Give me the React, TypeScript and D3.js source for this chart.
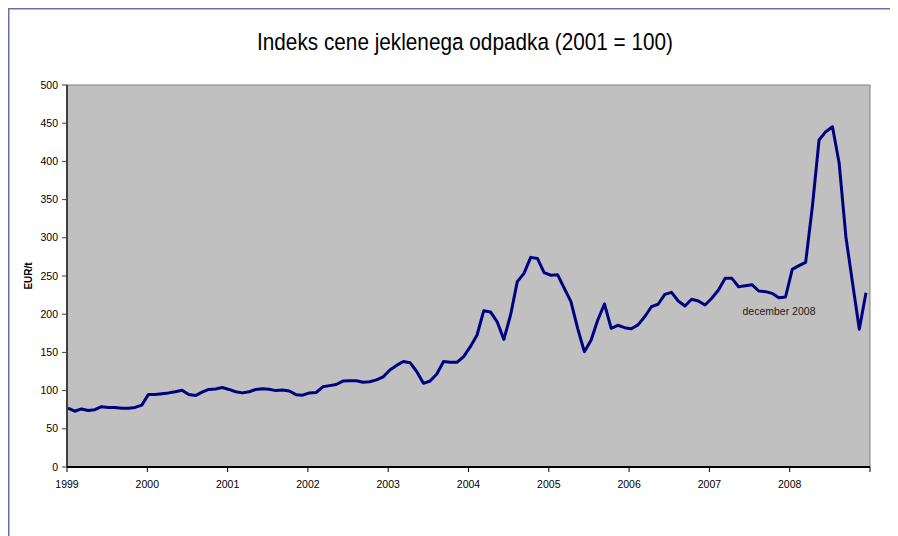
import * as d3 from "d3";

// mesečni indeks, januar 1999 - december 2008
const years = [1999, 2000, 2001, 2002, 2003, 2004, 2005, 2006, 2007, 2008];
const monthNames = ["jan", "feb", "mar", "apr", "maj", "jun", "jul", "avg", "sep", "okt", "nov", "dec"];

const values1999 = [77, 73, 76, 74, 75, 79, 78, 78, 77, 77, 78, 81];
const values2000 = [95, 95, 96, 97, 98.5, 100.5, 95, 93.5, 98, 101.5, 102, 104];
const values2001 = [101.5, 98.5, 97, 98.5, 101.5, 102.5, 101.7, 100, 100.8, 99.5, 94.7, 94];
const values2002 = [97, 97.5, 105, 106.5, 108, 112.5, 113, 113, 111, 111.5, 114, 118];
const values2003 = [127, 133, 138, 136.5, 125, 109.5, 112.6, 121.7, 138, 137, 137, 144.4];
const values2004 = [157.5, 172.8, 204.6, 203, 190, 167, 199, 242.6, 253.5, 274.4, 273, 254.4];
const values2005 = [251, 251.7, 234, 216.4, 181.5, 151, 166, 192.4, 213.4, 181.5, 185.5, 182.4];
const values2006 = [181, 186, 196.7, 209.8, 213, 226, 228.6, 217.3, 210.7, 219.5, 217.3, 212];
const values2007 = [220.8, 231.7, 246.9, 246.9, 236, 237.3, 238.6, 230.4, 229.5, 227.3, 221.6, 222.5];
const values2008 = [258.7, 263.5, 267.9, 340.7, 428, 438.9, 445.4, 397.5, 301.4, 240.4, 180.2, 228.2];

const yTicks = [0, 50, 100, 150, 200, 250, 300, 350, 400, 450, 500];

const title = "Indeks cene jeklenega odpadka (2001 = 100)";
const yLabel = "EUR/t";
const note = "december 2008";

const allValues = [
  values1999, values2000, values2001, values2002, values2003,
  values2004, values2005, values2006, values2007, values2008
];

const data = allValues.flatMap((vals, yi) =>
  vals.map((v, m) => ({ key: `${monthNames[m]} ${years[yi]}`, value: v }))
);

const font = "'Liberation Sans', Arial, sans-serif";

export default function App() {
  const left = 67;
  const right = 870;
  const top = 85;
  const bottom = 467;

  const x = d3.scalePoint<string>().domain(data.map(d => d.key)).range([68, 866]);
  const xYear = d3.scaleLinear().domain([1999, 2009]).range([left, right]);
  const y = d3.scaleLinear().domain([0, 500]).range([bottom, top]);

  const line = d3
    .line<{ key: string; value: number }>()
    .x(d => x(d.key) as number)
    .y(d => y(d.value));

  const yearTicks = d3.range(1999, 2010);

  return (
    <svg width={890} height={528} style={{ display: "block" }}>
      <g transform="translate(-8,-8)">
        <rect x={8.75} y={8.75} width={1200} height={1200} fill="#fff" stroke="#6e6eaa" strokeWidth={1.5} />

        <text
          x={465}
          y={49.5}
          textAnchor="middle"
          fontFamily="'Liberation Sans Narrow', 'Liberation Sans', Arial, sans-serif"
          fontSize={24.5}
          textLength={416}
          lengthAdjust="spacingAndGlyphs"
          fill="#000"
        >
          {title}
        </text>

        <rect x={left} y={top} width={right - left} height={bottom - top} fill="#c0c0c0" stroke="#808080" strokeWidth={1} />

        {/* y os */}
        <line x1={left} x2={left} y1={top} y2={bottom} stroke="#404040" strokeWidth={2} />
        {yTicks.map(t => (
          <g key={t}>
            <line x1={left - 5} x2={left} y1={y(t)} y2={y(t)} stroke="#404040" strokeWidth={1} />
            <text x={58} y={y(t)} dy="0.35em" textAnchor="end" fontFamily={font} fontSize={10.5} fill="#000">
              {t}
            </text>
          </g>
        ))}
        <text
          transform={`translate(32,${(top + bottom) / 2}) rotate(-90)`}
          textAnchor="middle"
          fontFamily={font}
          fontSize={10}
          fontWeight="bold"
          fill="#000"
        >
          {yLabel}
        </text>

        {/* x os */}
        <line x1={left} x2={right} y1={bottom} y2={bottom} stroke="#000" strokeWidth={2} />
        {yearTicks.map(yr => (
          <g key={yr}>
            <line x1={xYear(yr)} x2={xYear(yr)} y1={bottom} y2={bottom + 5} stroke="#000" strokeWidth={1} />
            {yr < 2009 && (
              <text x={xYear(yr)} y={488} textAnchor="middle" fontFamily={font} fontSize={10.5} fill="#000">
                {yr}
              </text>
            )}
          </g>
        ))}

        <path d={line(data) ?? ""} fill="none" stroke="#000080" strokeWidth={3} strokeLinejoin="round" />

        <text x={742.5} y={314.5} fontFamily={font} fontSize={10.5} fill="#1a1a1a">
          {note}
        </text>
      </g>
    </svg>
  );
}
